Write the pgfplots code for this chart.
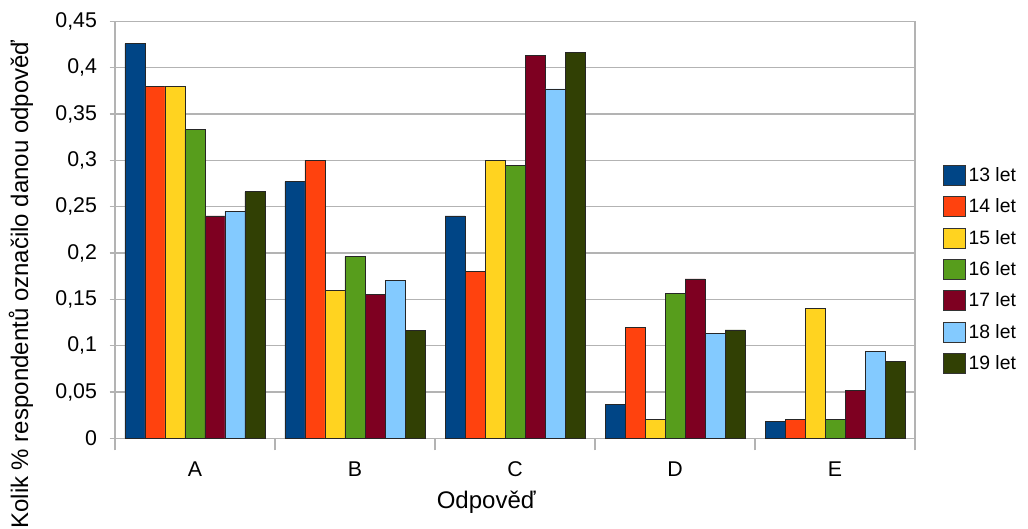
\documentclass[border=0pt]{standalone}
\usepackage{pgfplots}
\pgfplotsset{compat=1.18}
\usepackage{fontspec}
\setmainfont{Liberation Sans}
\definecolor{c13}{HTML}{004586}
\definecolor{c14}{HTML}{FF420E}
\definecolor{c15}{HTML}{FFD320}
\definecolor{c16}{HTML}{579D1C}
\definecolor{c17}{HTML}{7E0021}
\definecolor{c18}{HTML}{83CAFF}
\definecolor{c19}{HTML}{314004}
\definecolor{gridgray}{HTML}{B3B3B3}
\begin{document}
\begin{tikzpicture}
\useasboundingbox (-86.25pt,-67.5pt) rectangle (684.75pt,328.75pt);
\begin{axis}[
  at={(0pt,0pt)}, anchor=south west,
  scale only axis, width=600pt, height=312.75pt,
  ybar=0pt, bar width=15pt,
  xmin=-0.5, xmax=4.5, ymin=0, ymax=0.45,
  xtick={-0.5,0.5,1.5,2.5,3.5,4.5},
  xticklabels={A,B,C,D,E},
  x tick label as interval,
  ytick={0,0.05,0.1,0.15,0.2,0.25,0.3,0.35,0.4,0.45},
  yticklabels={0,{0,05},{0,1},{0,15},{0,2},{0,25},{0,3},{0,35},{0,4},{0,45}},
  ymajorgrids, grid style={gridgray, line width=0.8pt},
  axis line style={gridgray, line width=0.8pt},
  tick style={gridgray, line width=0.8pt},
  tick align=outside,
  xtick pos=bottom, ytick pos=left,
  major tick length=4pt,
  xtick style={/pgfplots/major tick length=9pt},
  tick label style={font=\fontsize{16}{18}\selectfont},
  yticklabel style={xshift=-6pt},
  xticklabel style={yshift=-10pt},
  xlabel={Odpověď},
  xlabel style={font=\fontsize{18}{20}\selectfont, at={(axis description cs:0.464,-0.153)}, anchor=center},
  ylabel={Kolik \% respondentů označilo danou odpověď},
  ylabel style={font=\fontsize{18}{20}\selectfont, at={(axis description cs:-0.1175,0.369)}, anchor=center},
  legend style={at={(1.03,0.405)}, anchor=west, draw=none, fill=none,
    font=\fontsize{14.5}{16}\selectfont, row sep=7.5pt,
    /tikz/every even column/.append style={column sep=6.5pt}},
  legend cell align=left,
  legend image code/.code={\draw[#1, draw=black!80, line width=0.5pt] (0pt,-7.5pt) rectangle (16.5pt,7.5pt);},
  every axis plot/.append style={draw=black!85, line width=0.6pt},
]
\addplot[fill=c13] coordinates {(0,0.426) (1,0.277) (2,0.240) (3,0.037) (4,0.018)};
\addplot[fill=c14] coordinates {(0,0.380) (1,0.300) (2,0.180) (3,0.120) (4,0.020)};
\addplot[fill=c15] coordinates {(0,0.380) (1,0.160) (2,0.300) (3,0.020) (4,0.140)};
\addplot[fill=c16] coordinates {(0,0.333) (1,0.196) (2,0.294) (3,0.156) (4,0.020)};
\addplot[fill=c17] coordinates {(0,0.240) (1,0.155) (2,0.413) (3,0.172) (4,0.052)};
\addplot[fill=c18] coordinates {(0,0.245) (1,0.170) (2,0.377) (3,0.113) (4,0.094)};
\addplot[fill=c19] coordinates {(0,0.266) (1,0.116) (2,0.416) (3,0.117) (4,0.083)};
\legend{13 let,14 let,15 let,16 let,17 let,18 let,19 let}
\end{axis}
\end{tikzpicture}
\end{document}
